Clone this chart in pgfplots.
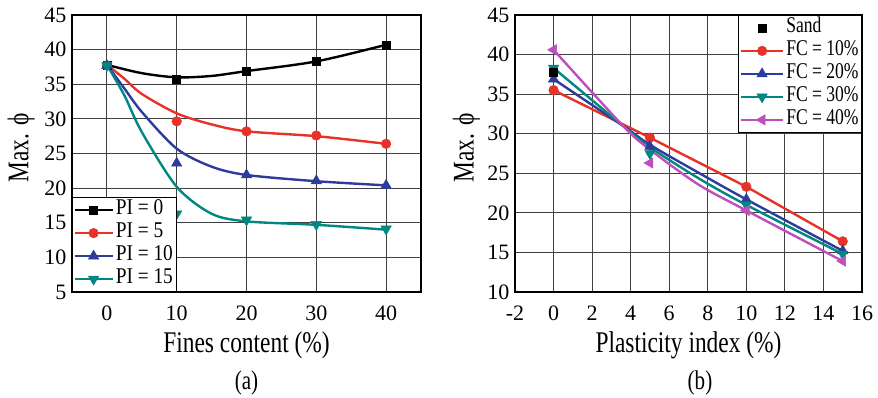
\documentclass[border=0pt]{standalone}
\usepackage{pgfplots}
\pgfplotsset{compat=1.18}
\usepackage{fontspec}
\setmainfont{Liberation Serif}
\newfontfamily\nfont{Liberation Serif}[FakeStretch=0.78]
\newfontfamily\lfont{Liberation Serif}[FakeStretch=0.86]
\definecolor{cred}{RGB}{230,50,40}
\definecolor{cblue}{RGB}{45,60,155}
\definecolor{cteal}{RGB}{0,135,130}
\definecolor{cmag}{RGB}{190,80,190}
\tikzset{
  sq/.style={mark=square*, mark size=4pt, mark options={line width=0.5pt}},
  ci/.style={mark=*, mark size=4.8pt, mark options={line width=0.5pt}},
  tu/.style={mark=triangle*, mark size=6pt, mark options={line width=0.5pt}},
  td/.style={mark=triangle*, mark size=6pt, mark options={line width=0.5pt, rotate=180}},
  tl/.style={mark=triangle*, mark size=6pt, mark options={line width=0.5pt, rotate=90}},
}
\pgfplotsset{
  mystyle/.style={
    scale only axis, width=349pt, height=277pt, anchor=south west,
    axis line style={black, line width=1.2pt},
    grid=major, major grid style={black!75, line width=0.9pt},
    major tick length=0pt,
    tick label style={font=\fontsize{22}{24}\selectfont},
    /pgf/number format/assume math mode=true,
    xticklabel style={yshift=-10pt},
    yticklabel style={xshift=-2pt},
    label style={font=\nfont\fontsize{30}{32}\selectfont},
    legend style={font=\nfont\fontsize{22.5}{24}\selectfont, draw=black, line width=0.8pt, fill=white, inner sep=1pt, row sep=0pt,
      nodes={inner sep=2pt, text height=14pt, text depth=5pt}, cells={anchor=west}},
    legend image code/.code={\draw[mark repeat=2,mark phase=2,##1] plot coordinates {(0pt,0pt)(21pt,0pt)(42pt,0pt)};},
    every axis plot/.append style={line width=2.4pt},
  },
}
\begin{document}
\begin{tikzpicture}[x=1pt,y=1pt]
\useasboundingbox (0,0) rectangle (878,397);
% (a)
\begin{axis}[mystyle, at={(72pt,105pt)},
  xmin=-5, xmax=45, xtick={0,10,20,30,40},
  ymin=5, ymax=45, ytick={5,10,...,45},
  xlabel={Fines content (\%)}, ylabel={Max. ϕ},
  xlabel style={at={(axis description cs:0.5,0)}, anchor=center, yshift=-53pt},
  ylabel style={at={(axis description cs:-0.146,0.52)}, anchor=center},
  legend style={at={(0,0)}, anchor=south west, font=\lfont\fontsize{22.5}{24}\selectfont},
  legend image code/.code={\draw[mark repeat=2,mark phase=2,#1] plot coordinates {(0pt,0pt)(19pt,0pt)(38pt,0pt)};},
]
\addplot[black, smooth, no marks, legend image post style={sq}] coordinates {(0,37.8)(5,36.6)(10,36.0)(15,36.2)(20,36.9)(30,38.3)(40,40.7)};
\addlegendentry{PI = 0}
\addplot[black, only marks, sq, forget plot] coordinates {(0,37.7)(10,35.7)(20,36.9)(30,38.3)(40,40.7)};
\addplot[cred, smooth, no marks, legend image post style={ci}] coordinates {(0,37.8)(2.5,35.8)(5,33.6)(10,30.8)(15,29.2)(20,28.2)(30,27.5)(40,26.4)};
\addlegendentry{PI = 5}
\addplot[cred, only marks, ci, forget plot] coordinates {(0,37.7)(10,29.65)(20,28.2)(30,27.6)(40,26.4)};
\addplot[cblue, smooth, no marks, legend image post style={tu}] coordinates {(0,37.8)(2.5,34.4)(5,31.0)(10,25.7)(15,23.1)(20,21.9)(30,21.0)(40,20.4)};
\addlegendentry{PI = 10}
\addplot[cblue, only marks, tu, forget plot] coordinates {(0,37.7)(10,23.6)(20,21.9)(30,21.05)(40,20.4)};
\addplot[cteal, smooth, no marks, legend image post style={td}] coordinates {(0,37.8)(2.5,33.4)(5,28.1)(10,20.2)(15,16.3)(20,15.2)(30,14.7)(40,14.0)};
\addlegendentry{PI = 15}
\addplot[cteal, only marks, td, forget plot] coordinates {(0,37.7)(10,16.3)(20,15.4)(30,14.75)(40,14.1)};
\end{axis}
% (b)
\begin{axis}[mystyle, at={(515pt,105pt)}, width=347pt,
  xmin=-2, xmax=16, xtick={-2,0,...,16},
  ymin=10, ymax=45, ytick={10,15,...,45},
  xlabel={Plasticity index (\%)}, ylabel={Max. ϕ},
  xlabel style={at={(axis description cs:0.5,0)}, anchor=center, yshift=-53pt},
  ylabel style={at={(axis description cs:-0.14,0.52)}, anchor=center},
  legend style={at={(1,1)}, anchor=north east},
]
\addplot[black, only marks, sq] coordinates {(0,37.8)};
\addlegendentry{Sand}
\addplot[cred, ci] coordinates {(0,35.5)(5,29.5)(10,23.3)(15,16.4)};
\addlegendentry{FC = 10\%}
\addplot[cblue, smooth, no marks, legend image post style={tu}] coordinates {(0,36.9)(3.6,31.0)(5,28.6)(7.5,25.1)(10,21.7)(15,15.2)};
\addlegendentry{FC = 20\%}
\addplot[cblue, only marks, tu, forget plot] coordinates {(0,36.9)(5,28.4)(10,21.7)(15,15.2)};
\addplot[cteal, smooth, no marks, legend image post style={td}] coordinates {(0,38.3)(3.6,31.0)(5,28.3)(7.5,24.4)(10,21.0)(15,14.8)};
\addlegendentry{FC = 30\%}
\addplot[cteal, only marks, td, forget plot] coordinates {(0,38.3)(5,27.5)(10,21.0)(15,14.8)};
\addplot[cmag, smooth, no marks, legend image post style={tl}] coordinates {(0,40.6)(3.6,31.0)(5,28.0)(7.5,23.6)(10,20.3)(15,13.9)};
\addlegendentry{FC = 40\%}
\addplot[cmag, only marks, tl, forget plot] coordinates {(0,40.6)(5,26.3)(10,20.3)(15,13.9)};
\addplot[black, only marks, sq, forget plot] coordinates {(0,37.8)};
\end{axis}
\node[font=\nfont\fontsize{27}{29}\selectfont] at (246.5,14) {(a)};
\node[font=\nfont\fontsize{27}{29}\selectfont] at (700,14) {(b)};
\end{tikzpicture}
\end{document}
